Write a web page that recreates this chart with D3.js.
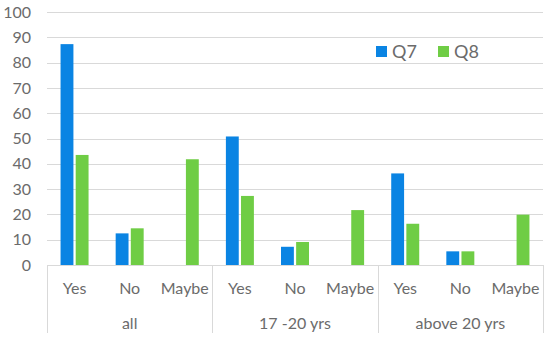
<!DOCTYPE html>
<html>
<head>
<meta charset="utf-8">
<script src="https://cdn.jsdelivr.net/npm/d3@7"></script>
<style>
  body { margin: 0; background: #fff; }
  text { font-family: Lato, "Open Sans", sans-serif; fill: #6b6b6b; }
</style>
</head>
<body>
<svg id="chart" width="550" height="339"></svg>
<script>
var groups = ['all', '17 -20 yrs', 'above 20 yrs'];
var answers = ['Yes', 'No', 'Maybe'];
var seriesNames = ['Q7', 'Q8'];
var q7 = [87.3, 12.5, 0, 50.8, 7.2, 0, 36.2, 5.4, 0];
var q8 = [43.5, 14.5, 41.8, 27.3, 9.1, 21.7, 16.3, 5.4, 19.9];
var yTicks = [0, 10, 20, 30, 40, 50, 60, 70, 80, 90, 100];
var colors = ['#0a84e3', '#6fcd45'];

var svg = d3.select('#chart');
var plotLeft = 47, plotRight = 543, plotTop = 12, plotBottom = 265;

var y = d3.scaleLinear().domain([0, 100]).range([plotBottom, plotTop]);

// one band per group, and per answer inside it
var cats = [];
groups.forEach(function(g, gi) {
  answers.forEach(function(a, ai) {
    cats.push({ group: g, answer: a, key: gi + '-' + ai });
  });
});
var x = d3.scaleBand().domain(cats.map(function(d) { return d.key; })).range([plotLeft, plotRight]);
var xg = d3.scaleBand().domain(groups).range([plotLeft, plotRight]);
var inner = d3.scaleBand().domain(seriesNames).range([0, 28]).paddingInner(0.15);

// gridlines
svg.append('g').selectAll('line').data(yTicks.slice(1)).enter().append('line')
  .attr('x1', plotLeft).attr('x2', plotRight)
  .attr('y1', function(d) { return Math.round(y(d)) + 0.5; }).attr('y2', function(d) { return Math.round(y(d)) + 0.5; })
  .attr('stroke', '#d9d9d9').attr('stroke-width', 1);

// y labels
svg.append('g').selectAll('text').data(yTicks).enter().append('text')
  .attr('x', 31).attr('y', function(d) { return y(d); }).attr('dy', '0.35em')
  .attr('text-anchor', 'end').style('font-size', '16px')
  .text(function(d) { return d; });

// bars
var series = [q7, q8];
series.forEach(function(vals, si) {
  svg.append('g').selectAll('rect').data(vals).enter().append('rect')
    .attr('x', function(d, i) { return x(cats[i].key) + x.bandwidth() / 2 - 14 + inner(seriesNames[si]); })
    .attr('width', inner.bandwidth())
    .attr('y', function(d) { return y(d); })
    .attr('height', function(d) { return plotBottom - y(d); })
    .attr('fill', colors[si]);
});

// x axis line and separators
svg.append('line').attr('x1', plotLeft).attr('x2', plotRight).attr('y1', plotBottom + 0.5).attr('y2', plotBottom + 0.5)
  .attr('stroke', '#d9d9d9');
var seps = groups.map(function(g) { return xg(g); }).concat([plotRight]);
svg.append('g').selectAll('line').data(seps).enter().append('line')
  .attr('x1', function(d) { return Math.round(d) + 0.5; }).attr('x2', function(d) { return Math.round(d) + 0.5; })
  .attr('y1', plotBottom).attr('y2', 333)
  .attr('stroke', '#d9d9d9');

// category labels
svg.append('g').selectAll('text').data(cats).enter().append('text')
  .attr('x', function(d) { return x(d.key) + x.bandwidth() / 2; })
  .attr('y', 288).attr('dy', '0.35em').attr('text-anchor', 'middle')
  .style('font-size', '16px')
  .text(function(d) { return d.answer; });

svg.append('g').selectAll('text').data(groups).enter().append('text')
  .attr('x', function(d) { return xg(d) + xg.bandwidth() / 2; })
  .attr('y', 323).attr('dy', '0.35em').attr('text-anchor', 'middle')
  .style('font-size', '16px')
  .text(function(d) { return d; });

// legend
var legend = svg.append('g').selectAll('g').data(seriesNames).enter().append('g')
  .attr('transform', function(d, i) { return 'translate(' + (376 + i * 62) + ',46)'; });
legend.append('rect').attr('width', 11).attr('height', 11)
  .attr('fill', function(d, i) { return colors[i]; });
legend.append('text').attr('x', 16).attr('y', 6).attr('dy', '0.35em')
  .style('font-size', '18px')
  .text(function(d) { return d; });
</script>
</body>
</html>
